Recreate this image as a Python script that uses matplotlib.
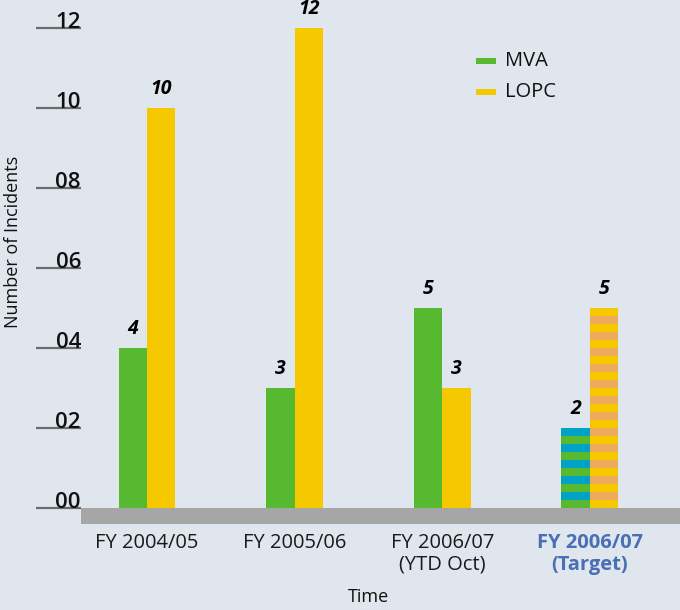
import numpy as np
import matplotlib
matplotlib.use("Agg")
import matplotlib.pyplot as plt

categories = ["FY 2004/05", "FY 2005/06", "FY 2006/07\n(YTD Oct)", "FY 2006/07\n(Target)"]
mva = [4, 3, 5, 2]
lopc = [10, 12, 3, 5]
yticks = [0, 2, 4, 6, 8, 10, 12]
ytick_labels = ["00", "02", "04", "06", "08", "10", "12"]

BG = "#e0e6ed"
GREEN = "#56b92f"
YELLOW = "#f5c800"
CYAN = "#00a3c4"
ORANGE = "#f0aa5c"
GRAY = "#a6a6a6"
TICK = "#6b6b6b"
BLUE = "#4a6fb5"

plt.rcParams['font.family'] = ['Open Sans', 'DejaVu Sans']

fig = plt.figure(figsize=(6.8, 6.1), dpi=100, facecolor=BG)
ax = fig.add_axes([81 / 680, 86 / 610, 599 / 680, 524 / 610], facecolor=BG)

x = np.arange(len(categories))
w = 0.193
ax.set_xlim(-0.447, 3.61)
ax.set_ylim(-0.4, 12.7)

# floor band
ax.axhspan(-0.4, 0, color=GRAY, lw=0)

# solid bars for the actual years, striped bars for the target
n_actual = 3
ax.bar(x[:n_actual] - w / 2, mva[:n_actual], w, color=GREEN, lw=0)
ax.bar(x[:n_actual] + w / 2, lopc[:n_actual], w, color=YELLOW, lw=0)

step = 0.2
t = n_actual
for i, b in enumerate(np.arange(0, mva[t], step)):
    ax.bar(x[t] - w / 2, step, w, bottom=b, color=GREEN if i % 2 == 0 else CYAN, lw=0)
for i, b in enumerate(np.arange(0, lopc[t], step)):
    ax.bar(x[t] + w / 2, step, w, bottom=b, color=YELLOW if i % 2 == 0 else ORANGE, lw=0)

# value labels
for xi, m, l in zip(x, mva, lopc):
    ax.text(xi - w / 2, m + 0.22, str(m), ha='center', va='bottom',
            fontsize=14, fontweight='bold', style='italic', color='black')
    ax.text(xi + w / 2, l + 0.22, str(l), ha='center', va='bottom',
            fontsize=14, fontweight='bold', style='italic', color='black')

# y ticks drawn as lines with labels sitting on them
ytrans = ax.get_yaxis_transform()
for v, lab in zip(yticks, ytick_labels):
    ax.plot([-45 / 599, 0], [v, v], color=TICK, lw=1.6, transform=ytrans, clip_on=False,
            solid_capstyle='butt')
    ax.text(0, v + 0.0, lab, transform=ytrans, ha='right', va='baseline',
            fontsize=16, fontweight='semibold', color='#111111')

ax.set_xticks([])
ax.set_yticks([])
for s in ax.spines.values():
    s.set_visible(False)

# category labels
for xi, cat in zip(x, categories):
    target = "Target" in cat
    ax.text(xi, -0.62, cat, ha='center', va='top', fontsize=14.5, linespacing=1.12,
            color=BLUE if target else '#1a1a1a', fontweight='bold' if target else 'normal')

fig.text(368 / 680, 1 - 597 / 610, "Time", ha='center', va='center', fontsize=13, color='#111111')
fig.text(13 / 680, 1 - 242 / 610, "Number of Incidents", ha='center', va='center',
         rotation=90, fontsize=13, color='#111111')

# legend
for yy, col, lab in [(61, GREEN, "MVA"), (92, YELLOW, "LOPC")]:
    fig.patches.append(plt.Rectangle((476 / 680, 1 - (yy + 3) / 610), 20 / 680, 6 / 610,
                                     color=col, transform=fig.transFigure, lw=0))
    fig.text(505 / 680, 1 - yy / 610, lab, ha='left', va='center', fontsize=14.5, color='#111111')

fig.savefig("out.png", dpi=100, facecolor=BG)
